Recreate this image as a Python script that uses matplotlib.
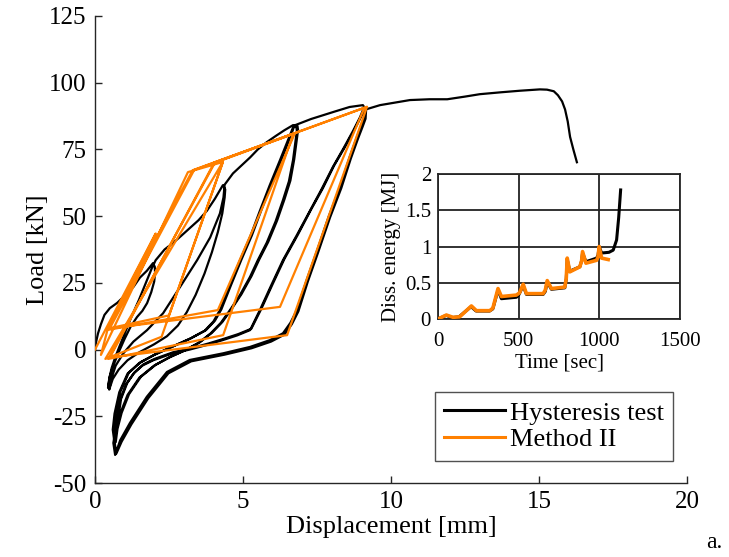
import matplotlib
matplotlib.use("Agg")
import matplotlib.pyplot as plt

plt.rcParams['font.family'] = ['Liberation Serif', 'DejaVu Serif']
plt.rcParams['axes.unicode_minus'] = False

# ---------------- main plot data (displacement [mm], load [kN]) ----------------
# hysteresis test: consecutive branches, each list continues the previous one
test_disp = [
    # initial loading + loop A (peak ~2 mm)
    0, 0.03, 0.1, 0.2, 0.32, 0.5, 0.75, 1.08, 1.3, 1.52, 1.75, 1.96,
    2.02, 2.03, 2.0, 1.9, 1.76, 1.6, 1.42, 1.2, 1.0, 0.8, 0.62, 0.5, 0.44,
    0.48, 0.56, 0.68, 0.82, 1.0, 1.22, 1.48, 1.72, 1.92, 2.05,
    # envelope to loop B peak
    2.35, 2.64, 2.9, 3.2, 3.5, 3.78, 4.05, 4.32,
    # loop B unload / reload
    4.4, 4.38, 4.3, 4.15, 3.95, 3.7, 3.4, 3.1, 2.8, 2.43, 2.0, 1.5, 1.1, 0.8, 0.6, 0.48,
    0.55, 0.7, 0.95, 1.3, 1.76, 2.3, 2.87, 3.45, 3.89, 4.22, 4.34, 4.38,
    # envelope to loop C peak
    4.66, 4.95, 5.24, 5.5, 5.8, 6.1, 6.4, 6.69,
    # loop C, cycle 1
    6.8, 6.82, 6.76, 6.69, 6.55, 6.35, 6.1, 5.8, 5.5, 5.24, 4.9, 4.56, 4.25, 3.9, 3.5, 3.0, 2.5, 2.0, 1.5, 1.1, 0.85, 0.72, 0.66,
    0.6, 0.66, 0.82, 1.1, 1.5, 2.0, 2.6, 3.2, 3.7, 4.0, 4.22, 4.55, 4.9, 5.25, 5.57, 5.9, 6.25, 6.5, 6.7,
    # loop C, cycle 2
    6.84, 6.86, 6.8, 6.73, 6.6, 6.4, 6.15, 5.85, 5.55, 5.29, 4.95, 4.61, 4.3, 3.95, 3.55, 3.05, 2.55, 2.05, 1.55, 1.15, 0.9, 0.76, 0.7,
    0.64, 0.7, 0.86, 1.14, 1.55, 2.05, 2.65, 3.25, 3.75, 4.05, 4.27, 4.6, 4.95, 5.3, 5.62, 5.95, 6.3, 6.55, 6.74,
    # envelope to loop D peak
    6.93, 7.3, 7.7, 8.1, 8.6, 9.05,
    # loop D, cycle 1
    9.12, 9.1, 9.0, 8.85, 8.6, 8.28, 7.9, 7.5, 7.15, 6.82, 6.6, 6.35, 5.9, 5.24, 4.33, 3.2, 2.43, 1.75, 1.18, 0.85, 0.68,
    0.62, 0.68, 0.84, 1.05, 1.3, 1.6, 1.97, 2.6, 3.2, 3.8, 4.33, 4.8, 5.24, 5.57, 5.95, 6.35, 6.8, 7.26, 7.65, 8.04, 8.4, 8.72, 8.95, 9.08,
    # loop D, cycle 2
    9.16, 9.14, 9.04, 8.89, 8.64, 8.32, 7.94, 7.54, 7.19, 6.87, 6.65, 6.4, 5.95, 5.29, 4.38, 3.25, 2.48, 1.8, 1.23, 0.9, 0.72,
    0.66, 0.72, 0.88, 1.09, 1.34, 1.64, 2.01, 2.64, 3.24, 3.84, 4.37, 4.84, 5.28, 5.62, 6.0, 6.4, 6.85, 7.3, 7.7, 8.08, 8.45, 8.77, 9.0, 9.15,
    # final monotonic loading to failure
    9.3, 9.63, 10.0, 10.64, 11.3, 11.9, 12.5, 13.0, 13.7, 14.36, 15.03, 15.27, 15.5, 15.64, 15.78, 15.88, 15.97, 16.05, 16.16, 16.28]
test_load = [
    0, 2.5, 6, 9.5, 13, 15.5, 17.5, 21, 23.5, 27, 29.5, 32.4,
    31, 28.6, 25.5, 21.5, 17.4, 14.5, 12.2, 8.5, 4, -1, -6, -10, -14.4,
    -11, -7, -3, 1, 6, 12, 18.5, 25, 30.5, 33.5,
    37.5, 40, 42.5, 45.5, 48.5, 52, 56.5, 61.6,
    60, 57, 51, 44, 36.5, 28.5, 20.5, 14, 9, 5, 2, -1, -4, -7.5, -11, -15,
    -11, -6, -1.5, 3, 7.3, 13.6, 23.4, 33.5, 42, 51, 57, 61.8,
    66, 69, 72, 75, 77.7, 80, 82.2, 84.1,
    83.5, 82, 77, 71, 63, 56, 48, 40, 33.5, 27.3, 20.5, 14.8, 10, 6, 2.5, -0.5, -3, -6, -10.5, -17, -24, -30, -35,
    -30, -24, -16, -9, -5, -2, 1, 4, 7, 10.5, 14.8, 24, 33.5, 42.5, 52, 61.5, 71, 78, 83.5,
    83.8, 82.3, 77.3, 71.3, 63.3, 56.3, 48.3, 40.3, 33.8, 27.6, 20.8, 15.1, 10.3, 6.3, 2.8, -0.2, -2.7, -5.7, -10.2, -16.7, -23.7, -29.7, -34.7,
    -29.7, -23.7, -15.7, -8.7, -4.7, -1.7, 1.3, 4.3, 7.3, 10.8, 15.1, 24.3, 33.8, 42.8, 52.3, 61.8, 71.3, 78.3, 84,
    84.8, 86.4, 87.8, 89.2, 90.9, 91.6,
    90.5, 87, 84, 79.7, 72, 61, 50, 37, 26, 14.8, 10, 6.1, 3.5, 1, -1.4, -3.9, -8.4, -17.7, -27.5, -34, -39.5,
    -35, -31, -19, -13, -9, -6, -4, -1.5, 0, 1.8, 3.6, 5.3, 7.3, 14.8, 24, 33.5, 42.5, 52, 60, 68.5, 75.5, 82, 87, 90.5,
    90, 86.5, 83.5, 79.2, 71.5, 60.5, 49.5, 36.5, 25.5, 14.3, 9.5, 5.6, 3, 0.5, -1.9, -4.4, -8.9, -18.2, -28, -34.5, -39,
    -34.5, -30.5, -18.5, -12.5, -8.5, -5.5, -3.5, -1, 0.5, 2.3, 4.1, 5.8, 7.8, 15.3, 24.5, 34, 43, 52.5, 60.5, 69, 76, 82.5, 87.5, 90,
    90.5, 91.6, 92.3, 93.5, 93.8, 93.8, 94.8, 95.7, 96.4, 97, 97.5, 97.4, 96.8, 95.3, 93, 90, 85.5, 79.7, 75, 70.2]

# Method II: piecewise-linear path through the cycle vertices
method_disp = [0, 2.05, 0.42, 0.2,
               3.14, 4.32, 2.25, 0.35,
               4.32, 2.5, 0.5,
               3.35, 6.7, 4.33, 0.45,
               4.05, 6.75, 4.15, 0.4,
               3.3, 9.19, 6.49, 0.5,
               4.03, 9.1, 6.25, 0.55]
method_load = [0, 43.5, 7.3, -2.0,
               66.5, 70.3, 4.8, -3.5,
               70.3, 12.8, 8.0,
               67.3, 80.9, 5.4, -3.5,
               70.0, 81.0, 14.8, 7.3,
               67.2, 91.0, 5.4, -3.0,
               70.1, 90.6, 16.0, 8.0]

# ---------------- inset data (time [sec], dissipated energy [MJ]) ----------------
test_time = [0, 50, 90, 130, 205, 236, 320, 340, 372, 393, 486, 500, 528, 548, 652, 665,
             677, 703, 786, 795, 801, 817, 879, 890, 896, 917, 983, 992, 999, 1014,
             1060, 1086, 1107, 1120, 1132]
test_energy = [0, 0.05, 0.02, 0.03, 0.17, 0.11, 0.11, 0.14, 0.40, 0.28, 0.30, 0.33, 0.46, 0.34,
               0.34, 0.38, 0.51, 0.41, 0.43, 0.55, 0.82, 0.66, 0.72, 0.80, 0.91, 0.79, 0.84,
               0.88, 1.0, 0.91, 0.92, 0.95, 1.09, 1.4, 1.78]
method_time = [0, 52, 93, 134, 207, 238, 321, 340, 372, 393, 486, 505, 528, 548, 652, 665,
               677, 703, 786, 795, 801, 817, 879, 890, 896, 917, 983, 992, 999, 1014, 1055]
method_energy = [0, 0.055, 0.023, 0.03, 0.18, 0.115, 0.115, 0.15, 0.42, 0.31, 0.33, 0.36, 0.48,
                 0.35, 0.35, 0.40, 0.53, 0.42, 0.44, 0.56, 0.84, 0.65, 0.72, 0.80, 0.93, 0.77,
                 0.81, 0.86, 1.0, 0.84, 0.82]

x_ticks = [0, 5, 10, 15, 20]
y_ticks = [-50, -25, 0, 25, 50, 75, 100, 125]
inset_x_ticks = [0, 500, 1000, 1500]
inset_y_ticks = [0, 0.5, 1, 1.5, 2]
inset_y_labels = ['0', '0.5', '1', '1.5', '2']

black = '#000000'
orange = '#FF8000'
axis_grey = '#262626'

fig = plt.figure(figsize=(7.29, 5.57), dpi=100)
ax = fig.add_axes([95 / 729, 74 / 557, 592 / 729, 467 / 557])
ax.plot(test_disp, test_load, color=black, lw=1.6, label='Hysteresis test', zorder=2,
        solid_joinstyle='round')
ax.plot(method_disp, method_load, color=orange, lw=1.6, label='Method II', zorder=3)
ax.set_xlim(0, 20)
ax.set_ylim(-50, 125)
ax.set_xticks(x_ticks)
ax.set_yticks(y_ticks)
ax.spines['top'].set_visible(False)
ax.spines['right'].set_visible(False)
for s in ['left', 'bottom']:
    ax.spines[s].set_color(axis_grey)
    ax.spines[s].set_linewidth(1.0)
ax.tick_params(direction='in', length=5, width=1.0, color=axis_grey, labelsize=18, pad=6)
ax.set_xlabel('Displacement [mm]', fontsize=19, labelpad=2)
ax.set_ylabel('Load [kN]', fontsize=19, labelpad=0)

leg = ax.legend(loc='upper left', bbox_to_anchor=(435 / 729, 1 - 392 / 557),
                bbox_transform=fig.transFigure, fontsize=19, frameon=True, fancybox=False,
                edgecolor=axis_grey, borderpad=0.35, handlelength=2.3, handletextpad=0.2,
                labelspacing=0.12, borderaxespad=0)
leg.get_frame().set_linewidth(1.0)
for h in leg.get_lines():
    h.set_linewidth(2.2)

fig.text(714 / 729, 1 - 543 / 557, 'a.', fontsize=17, ha='center', va='center')

# ---------------- inset ----------------
ins = fig.add_axes([438 / 729, 238 / 557, 242 / 729, 145 / 557])
ins.plot(test_time, test_energy, color=black, lw=2.2, zorder=3)
ins.plot(method_time, method_energy, color=orange, lw=2.6, zorder=4)
ins.set_xlim(0, 1500)
ins.set_ylim(0, 2)
ins.set_xticks(inset_x_ticks)
ins.set_yticks(inset_y_ticks)
ins.set_yticklabels(inset_y_labels)
ins.grid(True, color='#222222', lw=1.3)
ins.set_axisbelow(True)
for s in ins.spines.values():
    s.set_color(axis_grey)
    s.set_linewidth(1.3)
ins.tick_params(axis='x', direction='in', length=0, labelsize=15, pad=9)
ins.tick_params(axis='y', direction='in', length=0, labelsize=15, pad=5)
ins.set_xlabel('Time [sec]', fontsize=15, labelpad=2)
ins.set_ylabel('Diss. energy [MJ]', fontsize=15, labelpad=3)

fig.savefig('out.png', dpi=100)
